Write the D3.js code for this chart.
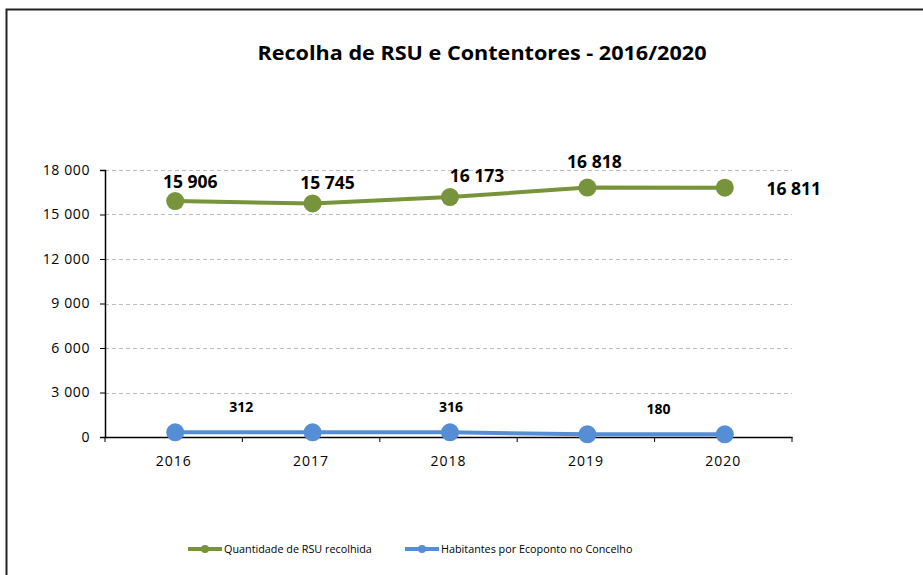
<!DOCTYPE html>
<meta charset="utf-8">
<head>
<title>Recolha de RSU e Contentores</title>
<script src="https://d3js.org/d3.v7.min.js"></script>
<style>
  body { margin: 0; background: #fff; }
  text { font-family: "Open Sans", "Noto Sans", sans-serif; }
</style>
</head>
<div id="chart"></div>
<script>
  // dados
  var years = ["2016", "2017", "2018", "2019", "2020"];
  var rsu = [15906, 15745, 16173, 16818, 16811];
  var habitantes = [312, 312, 316, 180, 180];
  var yTicks = [0, 3000, 6000, 9000, 12000, 15000, 18000];
  var seriesNames = ["Quantidade de RSU recolhida", "Habitantes por Ecoponto no Concelho"];
  var colors = ["#77933C", "#558ED5"];

  var W = 923, H = 575;
  var margin = {top: 170, left: 105, right: 131, bottom: 138};
  var width = W - margin.left - margin.right,
      height = H - margin.top - margin.bottom;

  var svg = d3.select("#chart").append("svg")
    .attr("width", W).attr("height", H);

  // moldura
  svg.append("rect")
    .attr("x", 6.5).attr("y", 9.5)
    .attr("width", W + 10).attr("height", H + 10)
    .attr("fill", "none").attr("stroke", "#222").attr("stroke-width", 2);

  // titulo
  svg.append("text")
    .attr("x", 482).attr("y", 60)
    .attr("text-anchor", "middle")
    .style("font-size", "20px").style("font-weight", "bold")
    .attr("textLength", 449).attr("lengthAdjust", "spacingAndGlyphs")
    .text("Recolha de RSU e Contentores - 2016/2020");

  var g = svg.append("g")
    .attr("transform", "translate(" + margin.left + "," + margin.top + ")");

  var x = d3.scaleBand().domain(years).range([0, width]);
  var y = d3.scaleLinear().domain([0, 18000]).range([height, 0]);
  var fmt = function(v) { return d3.format(",")(v).replace(/,/g, " "); };

  // grelha
  g.append("g").selectAll("line")
    .data(yTicks.slice(1))
    .enter().append("line")
      .attr("x1", 0).attr("x2", width)
      .attr("y1", function(d) { return Math.round(y(d)) + 0.5; })
      .attr("y2", function(d) { return Math.round(y(d)) + 0.5; })
      .attr("stroke", "#bdbdbd").attr("stroke-dasharray", "4,3");

  // eixo Y
  var yAxis = g.append("g")
    .call(d3.axisLeft(y).tickValues(yTicks).tickFormat(fmt).tickSize(5).tickPadding(10));
  yAxis.select(".domain").attr("stroke", "#000").attr("stroke-width", 1.5);
  yAxis.selectAll(".tick line").attr("stroke", "#000");
  yAxis.selectAll("text").style("font-size", "14px").style("letter-spacing", "0.6px").attr("fill", "#000");

  // eixo X
  var xAxis = g.append("g")
    .attr("transform", "translate(0," + height + ")")
    .call(d3.axisBottom(x).tickSize(0).tickPadding(19).tickSizeOuter(0));
  xAxis.select(".domain").attr("stroke", "#000").attr("stroke-width", 1.5);
  xAxis.selectAll("text").style("font-size", "14px").style("letter-spacing", "1px").attr("fill", "#000");
  g.append("g").selectAll("line")
    .data(years.concat(["end"]))
    .enter().append("line")
      .attr("x1", function(d, i) { return i * x.step(); })
      .attr("x2", function(d, i) { return i * x.step(); })
      .attr("y1", height).attr("y2", height + 5)
      .attr("stroke", "#000");

  var cx = function(d, i) { return x(years[i]) + x.bandwidth() / 2 + 1.5; };
  var line = d3.line().x(cx).y(function(d) { return y(d); });

  // series
  [rsu, habitantes].forEach(function(s, k) {
    g.append("path").datum(s)
      .attr("d", line)
      .attr("fill", "none").attr("stroke", colors[k]).attr("stroke-width", 4);
    g.append("g").selectAll("circle")
      .data(s).enter().append("circle")
        .attr("cx", cx).attr("cy", function(d) { return y(d); })
        .attr("r", 9).attr("fill", colors[k]);
  });

  // rotulos RSU
  var rsuDx = [15, 15, 27, 7, 69], rsuDy = [-13, -14, -15, -20, 7];
  g.append("g").selectAll("text")
    .data(rsu).enter().append("text")
      .attr("x", function(d, i) { return cx(d, i) + rsuDx[i]; })
      .attr("y", function(d, i) { return y(d) + rsuDy[i]; })
      .attr("text-anchor", "middle")
      .style("font-size", "17.5px").style("font-weight", "bold")
      .text(function(d) { return fmt(d); });

  // rotulos habitantes (so alguns)
  var habLabels = [0, 2, 3], habDx = [66, 1, 71];
  g.append("g").selectAll("text")
    .data(habLabels).enter().append("text")
      .attr("x", function(i, j) { return cx(null, i) + habDx[j]; })
      .attr("y", function(i) { return y(habitantes[i]) - 20; })
      .attr("text-anchor", "middle")
      .style("font-size", "14px").style("font-weight", "bold")
      .text(function(i) { return habitantes[i]; });

  // legenda
  var legendX = [188, 405];
  var leg = svg.append("g").selectAll("g")
    .data(seriesNames).enter().append("g")
      .attr("transform", function(d, i) { return "translate(" + legendX[i] + ",549)"; });
  leg.append("line")
    .attr("x1", 0).attr("x2", 34).attr("y1", 0).attr("y2", 0)
    .attr("stroke", function(d, i) { return colors[i]; }).attr("stroke-width", 4);
  leg.append("circle")
    .attr("cx", 17).attr("cy", 0).attr("r", 4)
    .attr("fill", function(d, i) { return colors[i]; });
  leg.append("text")
    .attr("x", 36).attr("y", 4)
    .style("font-size", "10.8px")
    .text(function(d) { return d; });
</script>
